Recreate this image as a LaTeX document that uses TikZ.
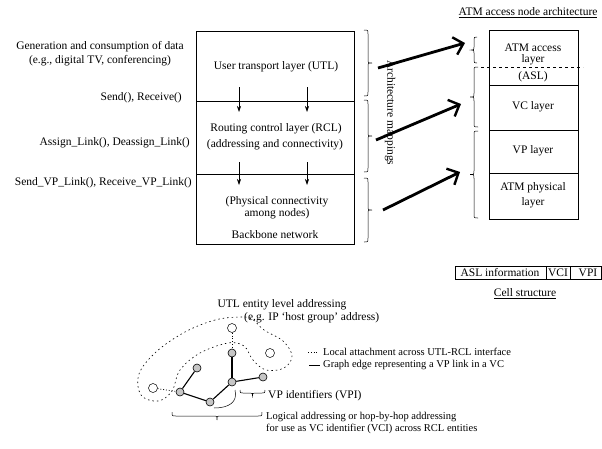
\documentclass[tikz,border=0pt]{standalone}
\usepackage{fontspec}
\setmainfont{Liberation Serif}
\usetikzlibrary{arrows.meta}
% vertical brace: x, y1, y2, a (a>0 tip to the right, a<0 tip to the left)
\newcommand\vbrace[4]{%
  \pgfmathsetmacro\bmid{(#2+#3)/2}%
  \pgfmathsetmacro\bq{abs(#4)}%
  \draw[braceline] (#1,#2) .. controls ({#1+#4},#2) and ({#1+#4},#2) .. ({#1+#4},{#2+\bq})
    -- ({#1+#4},{\bmid-\bq}) .. controls ({#1+#4},\bmid) and ({#1+#4},\bmid) .. ({#1+2*#4},\bmid)
    .. controls ({#1+#4},\bmid) and ({#1+#4},\bmid) .. ({#1+#4},{\bmid+\bq})
    -- ({#1+#4},{#3-\bq}) .. controls ({#1+#4},#3) and ({#1+#4},#3) .. (#1,#3);}
% horizontal brace: y, x1, x2, a (a>0 tip downwards)
\newcommand\hbrace[4]{%
  \pgfmathsetmacro\bmid{(#2+#3)/2}%
  \pgfmathsetmacro\bq{abs(#4)}%
  \draw[braceline] (#2,#1) .. controls (#2,{#1+#4}) and (#2,{#1+#4}) .. ({#2+\bq},{#1+#4})
    -- ({\bmid-\bq},{#1+#4}) .. controls (\bmid,{#1+#4}) and (\bmid,{#1+#4}) .. (\bmid,{#1+2*#4})
    .. controls (\bmid,{#1+#4}) and (\bmid,{#1+#4}) .. ({\bmid+\bq},{#1+#4})
    -- ({#3-\bq},{#1+#4}) .. controls (#3,{#1+#4}) and (#3,{#1+#4}) .. (#3,#1);}
\begin{document}
\begin{tikzpicture}[x=1pt,y=-1pt,
  txt/.style={font=\fontsize{11.5}{14}\selectfont, inner sep=0pt},
  smalltxt/.style={font=\fontsize{10.5}{12}\selectfont, inner sep=0pt},
  layerbox/.style={draw, line width=0.8pt},
  downarr/.style={-{Stealth[length=6pt,width=4pt]}, line width=0.6pt},
  maparr/.style={-{Straight Barb[length=9pt,width=18pt,line width=2.4pt]}, line width=2.8pt},
  braceline/.style={line width=0.5pt},
  gnode/.style={circle, draw, fill=gray!45, minimum size=8pt, inner sep=0pt, line width=0.6pt},
  onode/.style={circle, draw, minimum size=9pt, inner sep=0pt, line width=0.5pt},
  gedge/.style={line width=1.1pt},
  attach/.style={dotted, line width=0.8pt},
  lasso/.style={dash pattern=on 1.5pt off 3pt, line width=0.6pt}]
\useasboundingbox (0,0) rectangle (602,448);

% ---------- left stack ----------
\draw[layerbox] (196,31) rectangle (354,244);
\draw[layerbox] (196,101) -- (354,101);
\draw[layerbox] (196,174) -- (354,174);
\node[txt] (utl) at (276,67) {User transport layer (UTL)};
\node[txt] (rcl) at (276,129) {Routing control layer (RCL)};
\node[txt] (rcl2) at (275,145) {(addressing and connectivity)};
\node[txt] (phy) at (277,202) {(Physical connectivity};
\node[txt] (phy2) at (277,214) {among nodes)};
\node[txt] (bb) at (275,235) {Backbone network};

\coordinate (a1s) at (239,87); \coordinate (a1e) at (239,112);
\coordinate (a2s) at (307,87); \coordinate (a2e) at (307,112);
\coordinate (a3s) at (239,162); \coordinate (a3e) at (239,185);
\coordinate (a4s) at (307,162); \coordinate (a4e) at (307,185);
\draw[downarr] (a1s) -- (a1e);
\draw[downarr] (a2s) -- (a2e);
\draw[downarr] (a3s) -- (a3e);
\draw[downarr] (a4s) -- (a4e);

% left labels
\node[txt, align=center] (gen) at (100,54) {Generation and consumption of data\\(e.g., digital TV, conferencing)};
\node[txt, anchor=east] (sr) at (182,98) {Send(), Receive()};
\node[txt, anchor=east] (asg) at (190,143) {Assign\_Link(), Deassign\_Link()};
\node[txt, anchor=east] (svp) at (192,183) {Send\_VP\_Link(), Receive\_VP\_Link()};

% ---------- braces and mappings ----------
\vbrace{364}{30}{96}{4}
\vbrace{364}{100}{172}{4}
\vbrace{364}{178}{242}{4}
\coordinate (m1s) at (378,68);  \coordinate (m1e) at (465,43);
\coordinate (m2s) at (376,140); \coordinate (m2e) at (461,104);
\coordinate (m3s) at (383,210); \coordinate (m3e) at (460,172);
\draw[maparr] (m1s) -- (m1e);
\draw[maparr] (m2s) -- (m2e);
\draw[maparr] (m3s) -- (m3e);
\node[txt, rotate=-90, anchor=west] (archmap) at (390,60) {Architecture mappings};

\vbrace{477}{37}{63}{-3}
\vbrace{478}{67}{127}{-4}
\vbrace{478}{131}{218}{-4}

% ---------- right stack ----------
\node[txt] (title) at (528,13) {\underline{ATM access node architecture}};
\draw[layerbox] (489,30) rectangle (578,219);
\draw[layerbox] (489,85) -- (578,85);
\draw[layerbox] (489,130) -- (578,130);
\draw[layerbox] (489,173) -- (578,173);
\node[txt] (asl1) at (533,48) {ATM access};
\node[txt] (asl2) at (533,60) {layer};
\node[txt] (asl3) at (533,77) {(ASL)};
\draw[dash pattern=on 3pt off 3pt, line width=0.5pt] (481,67) -- (583,67);
\node[txt] (vc) at (533,107) {VC layer};
\node[txt] (vp) at (533,151) {VP layer};
\node[txt] (ph1) at (533,188) {ATM physical};
\node[txt] (ph2) at (533,203) {layer};

% cell structure
\draw[layerbox] (455,266) rectangle (601.6,279);
\draw[layerbox] (546,266) -- (546,279);
\draw[layerbox] (570,266) -- (570,279);
\node[txt] (cinfo) at (500,272.5) {ASL information};
\node[txt] (cvci) at (558,272.5) {VCI};
\node[txt] (cvpi) at (588,272.5) {VPI};
\node[txt] (cell) at (525,294) {\underline{Cell structure}};

% ---------- graph ----------
\draw[lasso] plot[smooth cycle, tension=0.6] coordinates {
  (240,317) (215,320) (185,332) (156,352) (139,374) (141,395) (158,401)
  (172,391) (180,370) (200,353) (228,343) (244,346) (253,360) (266,370)
  (284,368) (292,356) (283,341) (264,330) (252,319)};
\node[onode] (top) at (232,328) {};
\node[onode] (ol) at (153,388) {};
\node[onode] (or) at (270,353) {};
\node[gnode] (A) at (232,353) {};
\node[gnode] (B) at (232,382) {};
\node[gnode] (C) at (263,377) {};
\node[gnode] (D) at (210,402) {};
\node[gnode] (E) at (180,392) {};
\node[gnode] (F) at (197,368) {};
\draw[gedge] (A) -- (B);
\draw[gedge] (B) -- (C);
\draw[gedge] (B) -- (D);
\draw[gedge] (D) -- (E);
\draw[gedge] (E) -- (F);
\draw[attach] (top) -- (A);
\draw[attach] (ol) -- (E);

\node[txt] (utlad) at (282,305) {UTL entity level addressing};
\node[txt, anchor=west] (utlad2) at (244,318) {(e.g. IP `host group' address)};

% legend
\coordinate (l1a) at (308,352); \coordinate (l1b) at (319,352);
\coordinate (l2a) at (309,365); \coordinate (l2b) at (320,365);
\draw[attach] (l1a) -- (l1b);
\draw[line width=1pt] (l2a) -- (l2b);
\node[smalltxt, anchor=west] (leg1) at (323,352) {Local attachment across UTL-RCL interface};
\node[smalltxt, anchor=west] (leg2) at (323,365) {Graph edge representing a VP link in a VC};

% VPI
\hbrace{390}{240}{265}{3}
\draw[braceline] (235,390) .. controls (238,402) and (229,408) .. (214,408);
\node[txt, anchor=west] (vpi) at (268,396) {VP identifiers (VPI)};

% logical addressing
\hbrace{412}{172}{262}{4}
\node[smalltxt, anchor=west] (log1) at (266,417) {Logical addressing or hop-by-hop addressing};
\node[smalltxt, anchor=west] (log2) at (266,429) {for use as VC identifier (VCI) across RCL entities};
\end{tikzpicture}
\end{document}
